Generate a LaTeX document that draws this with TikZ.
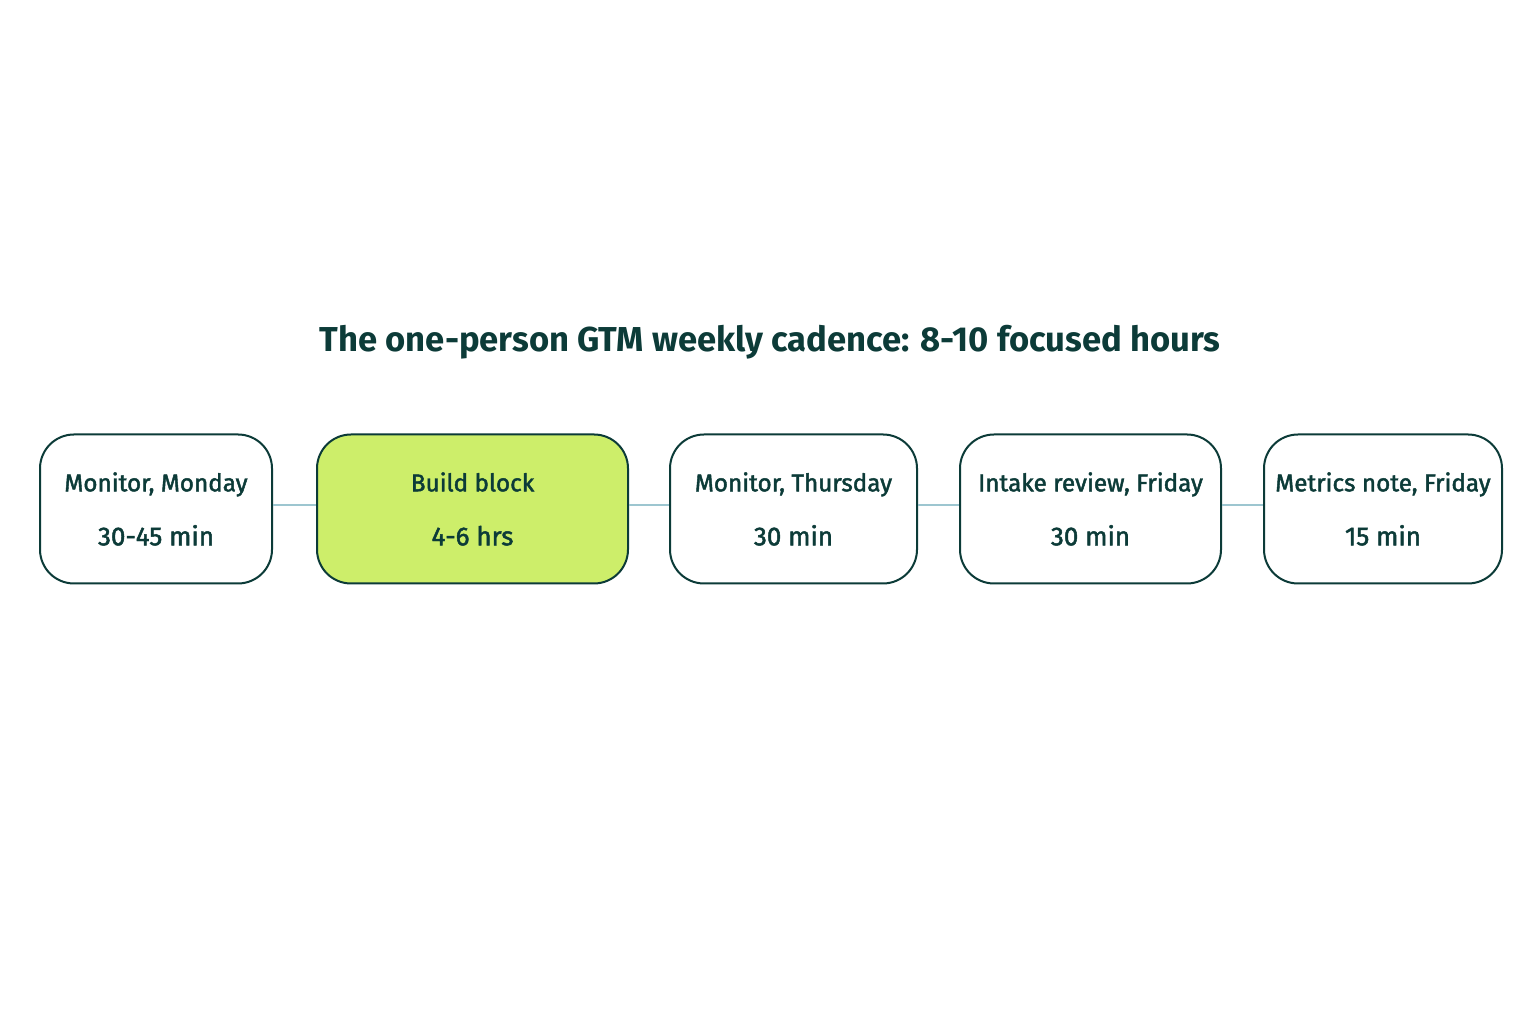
\documentclass[tikz,border=0pt]{standalone}
\usepackage{fontspec}
\setmainfont{Fira Sans}
\usepackage{tikz}
\usetikzlibrary{positioning}
\definecolor{ink}{HTML}{0C3B38}
\definecolor{lime}{HTML}{CDEE6A}
\definecolor{wire}{HTML}{9DC6D0}
\newcommand{\dur}[1]{{\fontsize{26}{54}\selectfont #1}}
\tikzset{
  slot/.style={draw=ink, line width=2pt, rounded corners=34pt, fill=white,
    minimum height=149pt, align=center, text=ink,
    font=\fontsize{24.3}{54}\selectfont\addfontfeatures{FakeBold=1.8}},
  link/.style={wire, line width=2.2pt}
}

\begin{document}
\begin{tikzpicture}[x=1pt, y=1pt]
        \useasboundingbox[fill=white] (0,0) rectangle (1536,1024);
        \node[text=ink, font=\fontsize{34.6}{40}\selectfont\bfseries] (title) at (770,682) {The one-person GTM weekly cadence: 8-10 focused hours};
        \node[slot, minimum width=232pt] (mon) at (156,515) {Monitor, Monday\\\dur{30-45 min}};
        \node[slot, minimum width=311pt, fill=lime] (build) at (472.5,515) {Build block\\\dur{4-6 hrs}};
        \node[slot, minimum width=247pt] (thu) at (793.5,515) {Monitor, Thursday\\\dur{30 min}};
        \node[slot, minimum width=261pt] (intake) at (1090.5,515) {Intake review, Friday\\\dur{30 min}};
        \node[slot, minimum width=238pt] (metrics) at (1383,515) {Metrics note, Friday\\\dur{15 min}};
        \draw[link] (mon.east |- 0,519) -- (build.west |- 0,519);
        \draw[link] (build.east |- 0,519) -- (thu.west |- 0,519);
        \draw[link] (thu.east |- 0,519) -- (intake.west |- 0,519);
        \draw[link] (intake.east |- 0,519) -- (metrics.west |- 0,519);
    \end{tikzpicture}
\end{document}
